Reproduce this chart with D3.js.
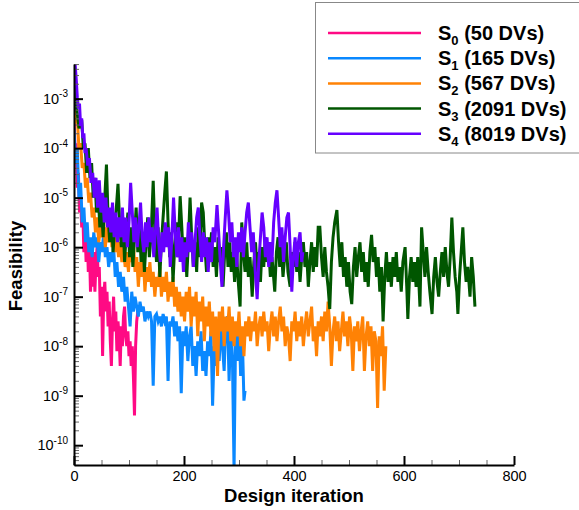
<!DOCTYPE html>
<html>
<head>
<meta charset="utf-8">
<script src="https://cdn.jsdelivr.net/npm/d3@7"></script>
<style>
  html, body { margin: 0; padding: 0; background: #fff; }
  svg { display: block; font-family: "Liberation Sans", Arial, sans-serif; }
</style>
</head>
<body>
<svg id="chart" width="579" height="510"></svg>
<script>
// Feasibility history per design space size: [iteration, log10(feasibility)]
const S0 = [[0,-3.3],[2,-4.1],[4,-3.9],[6,-4.8],[8,-4.5],[10,-5.3],[12,-5.0],[14,-5.6],[16,-5.3],[18,-6.1],[20,-5.6],[22,-6.3],[24,-5.7],[26,-6.5],[28,-6.0],[30,-6.9],[32,-6.2],[34,-6.8],[36,-6.1],[38,-6.9],[40,-6.3],[42,-6.0],[44,-6.6],[46,-6.4],[48,-7.4],[50,-6.8],[52,-8.2],[54,-7.0],[56,-6.7],[58,-7.3],[60,-6.9],[62,-7.6],[64,-7.1],[66,-7.9],[68,-8.4],[70,-7.5],[72,-7.0],[74,-7.7],[76,-7.3],[78,-8.1],[80,-7.5],[82,-7.8],[84,-8.4],[86,-7.6],[88,-8.0],[90,-7.4],[92,-7.2],[94,-7.8],[96,-8.0],[98,-7.7],[100,-8.2],[102,-7.9],[104,-8.4],[106,-8.0],[108,-8.6],[110,-9.4],[112,-8.0],[114,-7.5],[116,-7.3]];

const S1 = [[0,-3.6],[3,-4.3],[6,-4.0],[9,-5.0],[12,-4.7],[15,-5.5],[18,-5.2],[21,-5.9],[24,-5.5],[27,-6.1],[30,-5.8],[33,-6.2],[36,-5.7],[39,-6.0],[42,-5.8],[45,-6.3],[48,-5.9],[51,-6.1],[54,-5.7],[57,-6.2],[60,-6.0],[63,-6.4],[66,-6.1],[69,-6.3],[72,-6.0],[75,-6.6],[78,-6.3],[81,-6.8],[84,-6.5],[87,-6.9],[90,-6.6],[93,-7.1],[96,-6.8],[99,-7.2],[102,-7.6],[105,-6.9],[108,-7.3],[111,-7.0],[114,-7.2],[117,-7.4],[120,-7.1],[123,-7.3],[126,-7.2],[129,-7.5],[132,-7.3],[135,-7.4],[138,-7.3],[141,-7.5],[144,-8.8],[147,-7.4],[150,-7.35],[153,-7.5],[156,-7.4],[159,-7.6],[162,-7.35],[165,-7.5],[168,-7.4],[171,-8.7],[174,-7.5],[177,-7.6],[180,-7.4],[183,-7.8],[186,-7.5],[189,-7.9],[192,-7.6],[195,-8.95],[198,-7.7],[201,-8.0],[204,-7.6],[207,-8.3],[210,-7.8],[213,-7.6],[216,-8.4],[219,-8.0],[222,-8.6],[225,-7.9],[228,-8.2],[231,-7.7],[234,-8.5],[237,-8.1],[240,-8.6],[243,-7.9],[246,-8.2],[249,-7.7],[252,-9.2],[255,-8.0],[258,-8.4],[261,-7.9],[264,-8.3],[267,-7.6],[270,-8.0],[273,-8.5],[276,-7.5],[279,-7.4],[282,-8.7],[285,-7.6],[288,-8.2],[291,-10.5],[294,-7.6],[297,-8.3],[300,-7.5],[303,-8.6],[306,-7.8],[309,-9.1],[311,-8.9]];

const S2 = [[0,-3.0],[3,-3.5],[6,-3.4],[9,-4.0],[12,-3.9],[15,-4.4],[18,-4.3],[21,-4.8],[24,-4.6],[27,-5.1],[30,-4.9],[33,-5.4],[36,-5.2],[39,-5.7],[42,-5.4],[45,-5.9],[48,-5.6],[51,-5.8],[54,-5.5],[57,-6.0],[60,-5.6],[63,-5.9],[66,-5.5],[69,-6.0],[72,-5.7],[75,-6.1],[78,-5.8],[81,-6.2],[84,-5.9],[87,-6.3],[90,-6.0],[93,-6.4],[96,-6.1],[99,-6.5],[102,-6.0],[105,-6.3],[108,-5.9],[111,-6.5],[114,-6.2],[117,-6.8],[120,-6.3],[123,-6.6],[126,-6.2],[129,-6.9],[132,-6.4],[135,-6.7],[138,-6.3],[141,-6.8],[144,-6.5],[147,-7.0],[150,-6.6],[153,-6.8],[156,-6.4],[159,-7.0],[162,-6.6],[165,-6.9],[168,-6.5],[171,-7.1],[174,-6.7],[177,-7.0],[180,-6.6],[183,-7.2],[186,-6.8],[189,-7.3],[192,-6.9],[195,-7.4],[198,-7.0],[201,-7.5],[204,-6.9],[207,-7.3],[210,-6.8],[213,-7.6],[216,-7.0],[219,-7.4],[222,-6.9],[225,-7.8],[228,-7.1],[231,-7.5],[234,-7.0],[237,-7.9],[240,-7.2],[243,-7.6],[246,-7.1],[249,-7.8],[252,-7.3],[255,-8.1],[258,-7.4],[261,-8.6],[264,-7.3],[267,-7.7],[270,-7.2],[273,-8.0],[276,-7.4],[279,-7.7],[282,-7.2],[285,-7.9],[288,-7.4],[291,-8.0],[294,-7.5],[297,-7.8],[300,-7.3],[303,-8.0],[306,-7.6],[309,-8.2],[312,-7.5],[315,-7.8],[318,-7.4],[321,-7.9],[324,-7.5],[327,-7.7],[330,-7.3],[333,-8.0],[336,-7.6],[339,-7.4],[342,-7.8],[345,-7.3],[348,-7.7],[351,-7.5],[354,-8.1],[357,-7.6],[360,-7.3],[363,-7.8],[366,-7.4],[369,-7.9],[372,-7.5],[375,-7.2],[378,-7.7],[381,-7.4],[384,-8.0],[387,-7.6],[390,-7.8],[393,-8.3],[396,-7.5],[399,-7.7],[402,-7.3],[405,-7.9],[408,-7.5],[411,-7.8],[414,-7.4],[417,-8.0],[420,-7.6],[423,-7.3],[426,-7.8],[429,-7.5],[432,-7.2],[435,-7.9],[438,-7.6],[441,-8.2],[444,-7.5],[447,-7.8],[450,-7.4],[453,-7.9],[456,-7.3],[459,-7.7],[462,-7.1],[465,-7.6],[468,-8.4],[471,-7.7],[474,-7.4],[477,-7.9],[480,-7.5],[483,-8.1],[486,-7.7],[489,-7.3],[492,-7.8],[495,-7.5],[498,-8.0],[501,-7.4],[504,-7.7],[507,-8.5],[510,-7.6],[513,-7.9],[516,-7.5],[519,-8.1],[522,-7.7],[525,-7.4],[528,-8.5],[531,-7.8],[534,-7.5],[537,-8.0],[540,-7.6],[543,-8.5],[546,-7.7],[549,-7.9],[552,-9.25],[555,-7.8],[558,-8.2],[561,-7.6],[564,-8.9],[567,-8.0]];

const S3 = [[0,-2.6],[3,-3.1],[6,-3.3],[9,-3.6],[12,-3.5],[14,-3.43],[17,-4.0],[20,-3.9],[23,-4.5],[26,-4.0],[29,-4.6],[32,-4.3],[35,-5.0],[38,-4.6],[41,-5.3],[44,-4.9],[47,-5.6],[50,-5.2],[53,-5.8],[56,-5.0],[59,-4.33],[62,-5.4],[65,-5.9],[68,-5.3],[71,-6.1],[74,-5.6],[77,-5.2],[80,-4.72],[83,-5.5],[86,-6.0],[89,-5.4],[92,-6.3],[95,-5.7],[98,-5.3],[101,-6.2],[104,-5.6],[107,-6.4],[110,-5.8],[113,-5.2],[116,-6.1],[119,-5.5],[122,-6.3],[125,-5.7],[128,-6.5],[131,-5.9],[134,-5.4],[137,-6.2],[140,-5.8],[144,-4.66],[147,-5.7],[150,-6.3],[153,-5.6],[156,-6.6],[159,-5.9],[162,-5.4],[165,-4.9],[168,-4.47],[171,-5.5],[174,-6.2],[177,-5.7],[180,-6.7],[183,-6.0],[186,-5.5],[189,-6.2],[193,-4.97],[196,-5.6],[199,-6.3],[202,-5.8],[205,-6.6],[208,-5.9],[211,-5.0],[214,-5.8],[217,-6.4],[220,-5.9],[223,-6.5],[226,-5.6],[229,-6.2],[232,-5.1],[235,-5.3],[238,-6.0],[241,-6.5],[244,-5.8],[247,-6.3],[250,-5.7],[253,-6.4],[256,-6.0],[259,-6.6],[262,-5.8],[265,-6.3],[268,-6.0],[271,-6.8],[274,-6.1],[277,-5.7],[280,-6.4],[283,-5.9],[286,-6.5],[289,-6.1],[292,-6.7],[295,-6.0],[298,-6.6],[302,-7.2],[305,-5.5],[308,-6.1],[311,-6.5],[314,-5.9],[317,-6.6],[320,-6.2],[324,-7.0],[327,-6.3],[330,-5.9],[333,-6.5],[336,-6.1],[339,-6.7],[342,-6.0],[345,-6.4],[348,-5.8],[351,-6.3],[354,-6.0],[357,-6.6],[360,-6.2],[365,-6.9],[368,-6.1],[371,-5.8],[374,-6.4],[377,-6.0],[380,-6.6],[383,-6.2],[386,-5.9],[389,-6.5],[393,-6.8],[396,-6.1],[399,-6.4],[402,-5.9],[405,-6.5],[408,-6.1],[411,-6.7],[414,-6.2],[417,-5.9],[420,-6.4],[423,-6.1],[426,-6.8],[429,-6.3],[432,-5.9],[435,-6.5],[438,-6.0],[441,-6.4],[444,-5.6],[447,-5.6],[450,-6.2],[453,-6.6],[456,-6.0],[459,-6.5],[462,-6.8],[465,-7.25],[468,-6.3],[471,-5.8],[474,-5.5],[478,-5.25],[481,-5.9],[484,-6.4],[487,-5.9],[490,-6.6],[493,-6.2],[496,-6.8],[499,-6.3],[502,-6.9],[505,-7.15],[508,-6.4],[511,-6.0],[514,-6.6],[517,-6.2],[520,-5.9],[523,-6.5],[526,-6.1],[529,-6.7],[532,-6.3],[535,-6.8],[538,-6.1],[541,-5.75],[544,-6.3],[547,-6.0],[550,-6.6],[553,-6.2],[556,-6.9],[559,-6.4],[562,-7.5],[565,-6.6],[568,-6.1],[571,-6.7],[574,-6.3],[577,-6.8],[580,-6.2],[583,-6.6],[586,-6.1],[589,-6.7],[592,-6.4],[595,-6.9],[598,-6.3],[602,-6.0],[605,-6.8],[607,-7.45],[610,-6.6],[613,-6.2],[616,-6.7],[619,-6.3],[622,-6.8],[625,-6.2],[629,-7.2],[632,-5.6],[635,-6.1],[638,-6.6],[641,-6.0],[644,-6.5],[647,-6.9],[651,-7.35],[654,-6.6],[657,-6.2],[660,-6.7],[663,-7.0],[666,-6.5],[669,-6.1],[672,-6.6],[675,-6.0],[678,-6.5],[681,-6.8],[684,-6.2],[687,-5.4],[690,-6.1],[693,-6.6],[696,-6.9],[698,-7.35],[701,-6.6],[704,-6.1],[707,-5.6],[710,-6.3],[713,-6.7],[716,-6.4],[720,-7.0],[723,-6.2],[726,-6.6],[729,-7.2]];

const S4 = [[0,-2.4],[2,-2.3],[4,-2.6],[6,-2.97],[8,-3.2],[10,-3.1],[12,-3.55],[14,-3.4],[16,-3.8],[18,-3.7],[20,-4.1],[22,-4.0],[25,-4.35],[28,-4.2],[31,-4.7],[34,-4.5],[37,-5.0],[40,-4.6],[43,-5.2],[46,-4.65],[49,-5.3],[52,-4.9],[55,-5.5],[58,-5.0],[61,-5.6],[64,-5.2],[67,-5.7],[70,-5.1],[73,-5.8],[76,-5.3],[79,-5.9],[82,-5.4],[85,-5.8],[88,-5.2],[91,-5.9],[94,-5.4],[97,-6.0],[100,-5.5],[103,-4.7],[106,-5.3],[109,-5.9],[112,-5.4],[115,-6.0],[118,-5.6],[121,-5.1],[124,-5.8],[127,-6.1],[130,-5.5],[133,-6.0],[136,-5.4],[139,-5.9],[142,-5.6],[145,-6.2],[148,-5.7],[151,-5.2],[154,-5.9],[157,-6.3],[160,-5.7],[163,-6.1],[166,-5.5],[169,-6.0],[172,-5.6],[175,-6.4],[178,-5.8],[181,-5.0],[184,-5.7],[187,-6.2],[190,-5.6],[193,-6.3],[196,-5.8],[199,-6.5],[202,-5.9],[205,-6.2],[208,-5.5],[211,-6.1],[214,-5.7],[217,-6.4],[220,-5.9],[223,-5.4],[226,-5.2],[229,-5.8],[232,-6.3],[235,-5.7],[238,-6.2],[241,-5.8],[244,-6.5],[247,-5.9],[250,-6.3],[253,-5.6],[256,-5.9],[260,-5.15],[263,-5.7],[266,-6.3],[269,-6.8],[272,-6.0],[275,-5.4],[278,-4.85],[281,-5.3],[284,-5.9],[287,-5.5],[290,-6.2],[293,-5.8],[296,-6.4],[299,-5.7],[302,-6.1],[305,-5.6],[308,-6.2],[311,-5.7],[314,-5.3],[317,-5.1],[320,-5.6],[323,-6.1],[326,-5.7],[329,-6.4],[333,-7.05],[336,-6.3],[339,-5.8],[342,-5.3],[345,-5.6],[348,-6.2],[351,-5.8],[354,-6.4],[357,-5.9],[360,-6.3],[363,-5.5],[366,-5.1],[369,-4.85],[372,-5.4],[375,-6.0],[378,-5.6],[381,-6.3],[384,-5.8],[387,-5.4],[390,-5.3],[393,-6.0],[396,-6.9],[399,-6.2],[402,-5.8],[405,-6.4],[408,-5.9],[411,-5.7],[414,-6.3],[416,-6.1]];

const seriesNames = ["0", "1", "2", "3", "4"];
const seriesDVs = ["(50 DVs)", "(165 DVs)", "(567 DVs)", "(2091 DVs)", "(8019 DVs)"];
const seriesColors = ["#ff0a84", "#0a88ff", "#ff8205", "#005600", "#6600ff"];
const seriesData = [S0, S1, S2, S3, S4];

const xTicks = [0, 200, 400, 600, 800];
const yExponents = [-3, -4, -5, -6, -7, -8, -9, -10];

const svg = d3.select("#chart");

const x = d3.scaleLinear().domain([0, 800]).range([74, 514]);
const y = d3.scaleLog().domain([Math.pow(10, -10.4), Math.pow(10, -2.3)]).range([465, 64]);

// plot area clip
svg.append("defs").append("clipPath").attr("id", "plotClip")
  .append("rect").attr("x", 74).attr("y", 64).attr("width", 440).attr("height", 401);

// series lines
const line = d3.line()
  .x(d => x(d[0]))
  .y(d => y(Math.pow(10, d[1])));

const lines = svg.append("g").attr("clip-path", "url(#plotClip)");
seriesData.forEach((data, i) => {
  lines.append("path")
    .datum(data)
    .attr("fill", "none")
    .attr("stroke", seriesColors[i])
    .attr("stroke-width", 3)
    .attr("stroke-linejoin", "miter")
    .attr("d", line);
});

// minor ticks on the log axis
const yMinor = [];
for (let e = -11; e <= -3; e++) {
  for (let m = 2; m <= 9; m++) {
    const v = m * Math.pow(10, e);
    if (v >= y.domain()[0] && v <= y.domain()[1]) yMinor.push(v);
  }
}
const gyMinor = svg.append("g").attr("transform", "translate(74,0)")
  .call(d3.axisLeft(y).tickValues(yMinor).tickSizeInner(-5).tickSizeOuter(0).tickFormat(""));
gyMinor.select(".domain").remove();
gyMinor.selectAll(".tick line").attr("stroke", "#666").attr("stroke-width", 1);

// major y ticks with power labels
const gy = svg.append("g").attr("transform", "translate(74,0)")
  .call(d3.axisLeft(y)
    .tickValues(yExponents.map(e => Math.pow(10, e)))
    .tickSizeInner(-9).tickSizeOuter(0).tickPadding(6)
    .tickFormat(""));
gy.select(".domain").attr("stroke", "#000").attr("stroke-width", 2);
gy.selectAll(".tick line").attr("stroke", "#000").attr("stroke-width", 2);
gy.selectAll(".tick text").each(function(d) {
  const t = d3.select(this)
    .attr("font-family", "Liberation Sans, Arial, sans-serif")
    .attr("font-size", 14.5).attr("fill", "#000").attr("dy", "0.33em");
  const e = Math.round(Math.log10(d));
  t.append("tspan").text("10");
  t.append("tspan").attr("font-size", 10).attr("dy", -6.5).text(String(e));
});

// x axis
const xMinor = d3.range(50, 800, 50).filter(v => v % 200 !== 0);
const gxMinor = svg.append("g").attr("transform", "translate(0,465)")
  .call(d3.axisBottom(x).tickValues(xMinor).tickSizeInner(-5).tickSizeOuter(0).tickFormat(""));
gxMinor.select(".domain").remove();
gxMinor.selectAll(".tick line").attr("stroke", "#666").attr("stroke-width", 1);

const gx = svg.append("g").attr("transform", "translate(0,465)")
  .call(d3.axisBottom(x).tickValues(xTicks).tickSizeInner(-9).tickSizeOuter(0).tickPadding(6)
    .tickFormat(d3.format("d")));
gx.select(".domain").attr("stroke", "#000").attr("stroke-width", 2);
gx.selectAll(".tick text")
  .attr("font-family", "Liberation Sans, Arial, sans-serif")
  .attr("font-size", 14.5).attr("fill", "#000");
gx.selectAll(".tick line").attr("stroke", "#000").attr("stroke-width", 2);

// axis titles
svg.append("text")
  .attr("x", 294).attr("y", 502)
  .attr("text-anchor", "middle")
  .attr("font-size", 18.5).attr("font-weight", "bold")
  .text("Design iteration");

svg.append("text")
  .attr("transform", "translate(22,266) rotate(-90)")
  .attr("text-anchor", "middle")
  .attr("font-size", 18.5).attr("font-weight", "bold")
  .text("Feasibility");

// legend
const legend = svg.append("g");
legend.append("rect")
  .attr("x", 315.5).attr("y", 2.5).attr("width", 300).attr("height", 150.5)
  .attr("fill", "#fff").attr("stroke", "#888").attr("stroke-width", 1);

seriesNames.forEach((name, i) => {
  const cy = 33 + i * 25.2;
  legend.append("line")
    .attr("x1", 328).attr("x2", 421).attr("y1", cy).attr("y2", cy)
    .attr("stroke", seriesColors[i]).attr("stroke-width", 2.5);
  const t = legend.append("text")
    .attr("x", 438).attr("y", cy + 7)
    .attr("font-size", 20).attr("font-weight", "bold").attr("fill", "#000");
  t.append("tspan").text("S");
  t.append("tspan").attr("font-size", 13).attr("dy", 5).text(name);
  t.append("tspan").attr("dy", -5).text(" " + seriesDVs[i]);
});
</script>
</body>
</html>
